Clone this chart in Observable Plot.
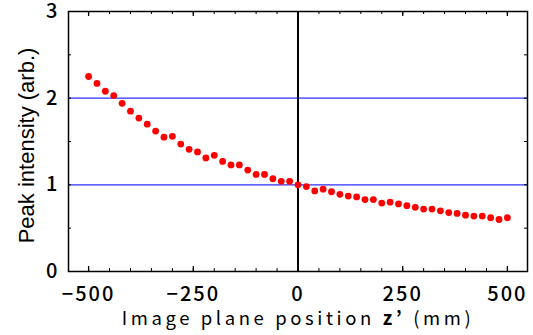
<!DOCTYPE html>
<html><head><meta charset="utf-8">
<script src="https://cdn.jsdelivr.net/npm/d3@7"></script>
<script src="https://cdn.jsdelivr.net/npm/@observablehq/plot@0.6"></script>
<style>body{margin:0;background:#fff}</style>
</head><body><div id="chart"></div>
<script>
const positions = [-500,-480,-460,-440,-420,-400,-380,-360,-340,-320,-300,-280,-260,-240,-220,-200,-180,-160,-140,-120,-100,-80,-60,-40,-20,0,20,40,60,80,100,120,140,160,180,200,220,240,260,280,300,320,340,360,380,400,420,440,460,480,500];
const intensity = [2.25,2.17,2.08,2.03,1.94,1.85,1.77,1.70,1.62,1.55,1.56,1.47,1.41,1.38,1.31,1.34,1.27,1.23,1.23,1.17,1.12,1.12,1.07,1.04,1.04,1.00,0.98,0.93,0.95,0.92,0.89,0.87,0.86,0.83,0.83,0.79,0.80,0.78,0.76,0.74,0.72,0.72,0.70,0.68,0.67,0.65,0.64,0.64,0.62,0.60,0.62];
const xTickLabels = [-500,-250,0,250,500];
const xMinorTicks = [-500,-450,-400,-350,-300,-250,-200,-150,-100,-50,0,50,100,150,200,250,300,350,400,450,500];
const yTickLabels = [0,1,2,3];
const yMinorTicks = [0.5,1,1.5,2,2.5];
const blueLines = [1,2];
const zeroLine = [0];
const xTitle = "Image plane position z’ (mm)";
const yTitle = "Peak intensity (arb.)";

const W = 533, H = 335, mL = 68, mR = 6, mT = 11, mB = 64;
const fw = W - mL - mR, fh = H - mT - mB;
const gothic = "'Noto Sans CJK JP', sans-serif";

const data = positions.map((x, i) => ({x, y: intensity[i]}));

const chart = Plot.plot({
  width: W, height: H,
  marginLeft: mL, marginRight: mR, marginTop: mT, marginBottom: mB,
  x: {domain: [-548, 548]},
  y: {domain: [0, 3]},
  style: {background: "#fff", color: "#000"},
  marks: [
    Plot.ruleY(blueLines, {stroke: "#2f2fff", strokeWidth: 1.1}),
    Plot.ruleX(zeroLine, {stroke: "#000", strokeWidth: 2}),
    Plot.tickX(xMinorTicks, {x: d => d, insetTop: fh - 3, stroke: "#000", strokeWidth: 1}),
    Plot.tickX(xMinorTicks, {x: d => d, insetBottom: fh - 3, stroke: "#000", strokeWidth: 1}),
    Plot.tickX(xTickLabels, {x: d => d, insetTop: fh - 5, stroke: "#000", strokeWidth: 1.3}),
    Plot.tickX(xTickLabels, {x: d => d, insetBottom: fh - 5, stroke: "#000", strokeWidth: 1.3}),
    Plot.tickY(yMinorTicks, {y: d => d, insetRight: fw - 3, stroke: "#000", strokeWidth: 1}),
    Plot.tickY(yMinorTicks, {y: d => d, insetLeft: fw - 3, stroke: "#000", strokeWidth: 1}),
    Plot.frame({stroke: "#000", strokeWidth: 1.5}),
    Plot.dot(data, {x: "x", y: "y", r: 3.4, fill: "#ff0000", stroke: null}),
    Plot.axisX({ticks: xTickLabels, tickSize: 0, tickPadding: 15, fontSize: 20, fontFamily: gothic, fontWeight: 500, label: null}),
    Plot.axisY({ticks: yTickLabels, tickFormat: d3.format("d"), tickSize: 0, tickPadding: 11, fontSize: 20, fontFamily: gothic, fontWeight: 500, label: null}),
    Plot.text([xTitle], {frameAnchor: "bottom", dy: 53, fontSize: 18.5, fontFamily: gothic, className: "xtitle"}),
    Plot.text([yTitle], {frameAnchor: "left", textAnchor: "middle", dx: -42, dy: 4, rotate: -90, fontSize: 22, fontFamily: "'Liberation Sans', Arial, sans-serif"})
  ]
});

// bold z’ in the x title
d3.select(chart).selectAll(".xtitle text").each(function() {
  const t = d3.select(this);
  t.text("");
  t.append("tspan").text("Image plane position ");
  t.append("tspan").attr("font-weight", "bold").text("z’");
  t.append("tspan").text(" (mm)");
  t.attr("letter-spacing", "3.6px");
});
d3.select(chart).selectAll("[aria-label='x-axis tick label'] text").attr("letter-spacing", "2px");

document.getElementById("chart").appendChild(chart);
</script>
</body></html>
